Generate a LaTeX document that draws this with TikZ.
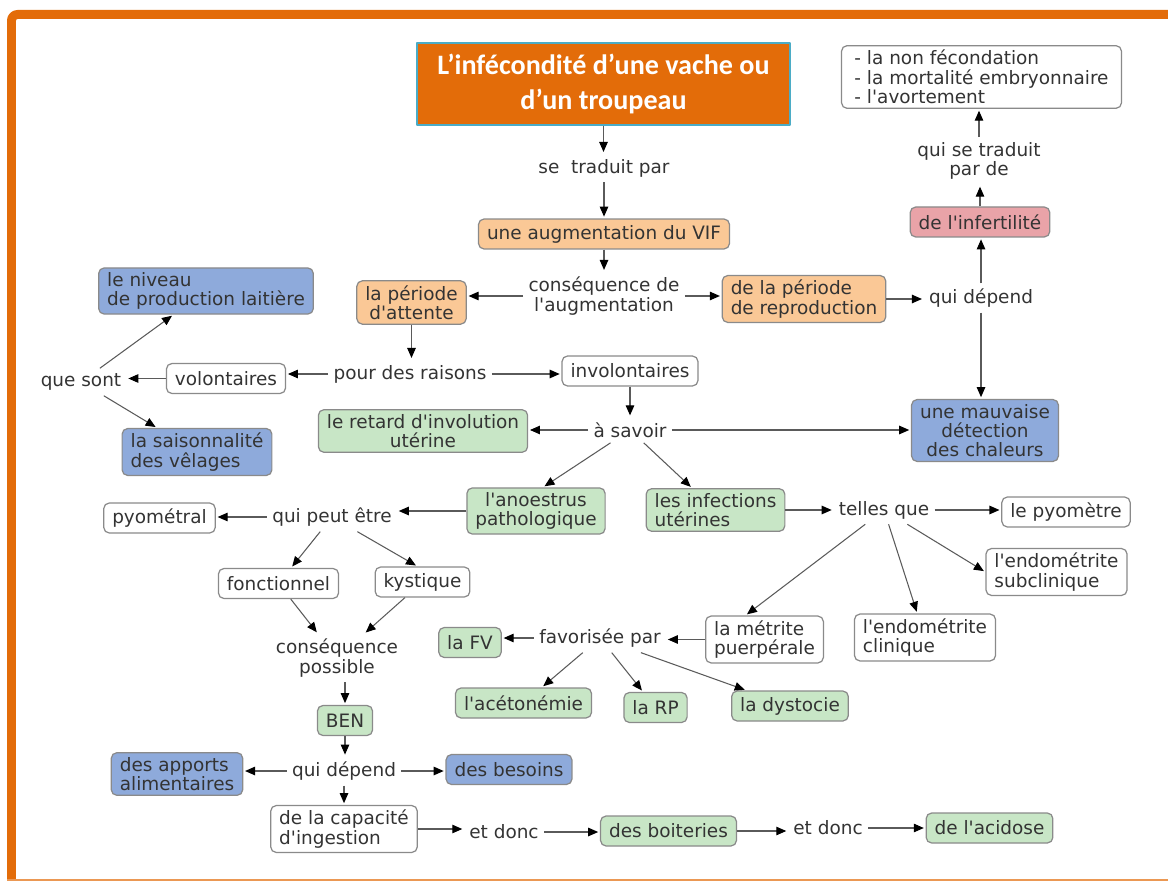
\documentclass[tikz,border=0pt]{standalone}
\usepackage{fontspec}
\newfontfamily\mapfont{DejaVu Sans}
\newfontfamily\titlefont{Carlito}
\usetikzlibrary{arrows.meta}
\definecolor{FrameOrange}{HTML}{E36C09}
\definecolor{TitleCyan}{HTML}{4BACC6}
\definecolor{BoxPeach}{HTML}{FAC896}
\definecolor{BoxBlue}{HTML}{8EAADB}
\definecolor{BoxGreen}{HTML}{C8E6C6}
\definecolor{BoxPink}{HTML}{E9A3A8}
\definecolor{BoxEdge}{HTML}{8A8A8A}
\definecolor{InkGrey}{HTML}{333333}
\definecolor{LinkGrey}{HTML}{5A5A5A}

\begin{document}
\begin{tikzpicture}[x=0.02cm,y=-0.02cm,line join=round,
  every node/.style={text=InkGrey,font=\mapfont\fontsize{10.5}{11}\selectfont},
  box/.style={draw=BoxEdge,line width=0.7pt,rounded corners=0.11cm,inner xsep=0.17cm,inner ysep=0.09cm,minimum height=0.6cm},
  wbox/.style={box,fill=white},peachbox/.style={box,fill=BoxPeach},bluebox/.style={box,fill=BoxBlue},
  greenbox/.style={box,fill=BoxGreen},pinkbox/.style={box,fill=BoxPink},
  lbl/.style={inner sep=0.1cm},
  link/.style={draw=LinkGrey,line width=0.6pt,-{Triangle[length=0.2cm,width=0.17cm,color=black]},shorten >=1pt}]
  \useasboundingbox (0,0) rectangle (1168,881);
  % frame
  \draw[FrameOrange,line width=0.18cm,rounded corners=0.12cm] (11.5,881)--(11.5,14.5)--(1168,14.5);
  \draw[FrameOrange!70,line width=0.04cm] (7,879.5)--(1168,879.5);
  % top
  \node[fill=FrameOrange,draw=TitleCyan,line width=0.8pt,minimum width=7.46cm,minimum height=1.64cm,align=center,
    text=white,font={\titlefont\bfseries\fontsize{16}{20}\selectfont}] (title) at (603.5,84) {L’infécondité d’une vache ou\\d’un troupeau};
  \node[lbl] (trad) at (604,168) {se\ \ traduit par};
  \node[peachbox] (vif) at (604,234) {une augmentation du VIF};
  \node[lbl,align=center] (csq) at (604,296) {conséquence de\\l'augmentation};
  \node[peachbox,align=center] (attente) at (411.5,302.5) {la période\\d'attente};
  \node[peachbox,align=left] (repro) at (804,299) {de la période\\de reproduction};
  \node[lbl] (dep) at (981,298) {qui dépend};
  \node[pinkbox] (infert) at (980,222) {de l'infertilité};
  \node[lbl,align=center] (quitrad) at (979,161) {qui se traduit\\par de};
  \node[wbox,align=left,minimum width=5.6cm] (issues) at (981.5,77) {- la non fécondation\\- la mortalité embryonnaire\\- l'avortement};
  \node[bluebox,align=center] (chaleurs) at (985,430.5) {une mauvaise\\détection\\des chaleurs};
  % raisons
  \node[lbl] (raisons) at (410,374) {pour des raisons};
  \node[wbox] (volont) at (226,378.5) {volontaires};
  \node[wbox] (involont) at (630,371) {involontaires};
  \node[lbl] (sont) at (81,382) {que sont};
  \node[bluebox,align=left] (lait) at (206,291) {le niveau\\de production laitière};
  \node[bluebox,align=left] (velage) at (197,452) {la saisonnalité\\des vêlages};
  \node[greenbox,align=center] (retard) at (423,431) {le retard d'involution\\utérine};
  \node[lbl] (savoir) at (630,430) {à savoir};
  \node[greenbox,align=center] (anoes) at (536,511) {l'anoestrus\\pathologique};
  \node[greenbox,align=left] (infect) at (715.5,510) {les infections\\utérines};
  % infections
  \node[lbl] (telles) at (884,510) {telles que};
  \node[wbox] (pyometre) at (1066,512) {le pyomètre};
  \node[wbox,align=left] (subcli) at (1056.5,572) {l'endométrite\\subclinique};
  \node[wbox,align=left] (clini) at (925,637.5) {l'endométrite\\clinique};
  \node[wbox,align=left] (metrite) at (764.5,639.5) {la métrite\\puerpérale};
  \node[lbl] (favor) at (600,638) {favorisée par};
  \node[greenbox] (fv) at (470,642.5) {la FV};
  \node[greenbox] (aceto) at (523.5,703) {l'acétonémie};
  \node[greenbox] (rp) at (655.5,707.5) {la RP};
  \node[greenbox] (dysto) at (790,706) {la dystocie};
  % anoestrus
  \node[lbl] (peut) at (332,517) {qui peut être};
  \node[wbox] (pyometral) at (159.5,518) {pyométral};
  \node[wbox] (fonct) at (278.5,583.5) {fonctionnel};
  \node[wbox] (kyst) at (422.5,582) {kystique};
  \node[lbl,align=center] (possible) at (337,658) {conséquence\\possible};
  \node[greenbox] (ben) at (345,720.5) {BEN};
  \node[lbl] (dep2) at (344,771) {qui dépend};
  \node[bluebox,align=left] (apports) at (177,774) {des apports\\alimentaires};
  \node[bluebox] (besoins) at (509,769.5) {des besoins};
  \node[wbox,align=left] (ingest) at (344,829) {de la capacité\\d'ingestion};
  \node[lbl] (donc1) at (504,832) {et donc};
  \node[greenbox] (boit) at (668.5,831) {des boiteries};
  \node[lbl] (donc2) at (828,828) {et donc};
  \node[greenbox] (acid) at (989.5,828) {de l'acidose};
  % links: leftwards, rightwards, downwards, upwards, slanted
  \foreach \a/\b in {csq/attente,raisons/volont,volont/sont,savoir/retard,anoes/peut,peut/pyometral,dep2/apports,metrite/favor,favor/fv}
    {\draw[link] (\a)--(\a -| \b.east);}
  \foreach \a/\b in {csq/repro,repro/dep,raisons/involont,savoir/chaleurs,infect/telles,telles/pyometre,dep2/besoins,ingest/donc1,donc1/boit,boit/donc2,donc2/acid}
    {\draw[link] (\a)--(\a -| \b.west);}
  \foreach \a/\b in {title/trad,trad/vif,vif/csq,dep/chaleurs,attente/raisons,involont/savoir,ben/dep2,dep2/ingest}
    {\draw[link] (\a)--(\a |- \b.north);}
  \foreach \a/\b in {dep/infert,infert/quitrad,quitrad/issues}
    {\draw[link] (\a)--(\a |- \b.south);}
  \foreach \a/\b in {sont/lait,sont/velage,savoir/infect,peut/fonct,fonct/possible,kyst/possible,telles/clini,favor/aceto,favor/rp,favor/dysto}
    {\draw[link] (\a)--(\b);}
  \draw[link] (savoir)--([xshift=0.14cm]anoes.north);
  \draw[link] (peut)--([xshift=-0.1cm]kyst.north);
  \draw[link] (telles)--([xshift=-0.38cm]metrite.north);
  \draw[link] (telles)--(subcli.west);
  \draw[link] (possible.south -| ben.north)--(ben);
\end{tikzpicture}
\end{document}
